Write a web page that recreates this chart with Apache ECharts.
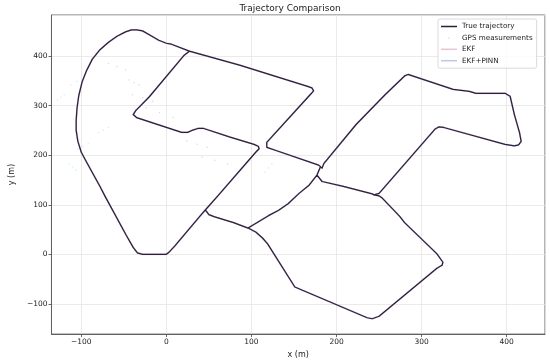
<!DOCTYPE html>
<html>
<head>
<meta charset="utf-8">
<script src="https://cdn.jsdelivr.net/npm/echarts@6/dist/echarts.min.js"></script>
<style>
  html, body { margin: 0; padding: 0; background: #fff; }
  #chart { width: 550px; height: 364px; }
</style>
</head>
<body>
<div id="chart"></div>
<script>
/**
 * Trajectory pieces, in metres [x, y].
 * Estimated filter tracks sit on top of the true path at this scale,
 * so they reuse the same pieces.
 */
// (0,0) west, round the big left arc, over the top to the north junction
let legWestArc = [[0, 0], [-8, 0], [-28, 0], [-34, 3], [-39, 14], [-47, 38], [-72, 117], [-78, 137],
    [-95, 190], [-100, 206], [-104, 228], [-106, 250], [-106, 270], [-105, 295], [-103, 320],
    [-99, 348], [-94, 370], [-87, 394], [-78, 413], [-68, 428], [-58, 440], [-48, 449],
    [-41, 453], [-35, 453], [-28, 451], [-18, 441], [-9, 432], [0, 426], [6, 424], [27, 410]];
// north junction along the long road, down to the centre crossing
let legNorthRoad = [[27, 410], [86, 382], [166, 339], [171, 336], [173, 330], [170, 324], [118, 226],
    [116, 222], [118, 216], [128, 210], [179, 180], [183, 174]];
// (0,0) up the diagonal, round the inner block, back to the north junction
let legInnerBlock = [[0, 0], [3, 4], [10, 17], [41, 80], [46, 90], [60, 117], [105, 206], [109, 213],
    [108, 218], [103, 222], [74, 237], [44, 254], [37, 254], [30, 250], [25, 246], [18, 246],
    [-35, 276], [-39, 282], [-36, 290], [-20, 318], [21, 402], [27, 410]];
let legLink = [[46, 89], [50, 80], [56, 76], [79, 64], [96, 53]];
let legCentreSouth = [[181, 176], [177, 160], [168, 140], [156, 123], [143, 102], [132, 89], [120, 78], [96, 53]];
let legSouthLoop = [[244, 120], [250, 118], [254, 113], [274, 77], [280, 64], [318, 1], [325, -16],
    [324, -22], [318, -28], [250, -125], [242, -130], [236, -128], [151, -66], [119, 21],
    [113, 33], [105, 45], [96, 53]];
let legEastHook = [[183, 174], [185, 183], [223, 262], [257, 322], [280, 360], [284, 363], [291, 359],
    [337, 333], [356, 329], [364, 325], [398, 325], [404, 319], [409, 282], [415, 246],
    [417, 228], [414, 221], [409, 219], [398, 222], [326, 256], [320, 257], [316, 253],
    [250, 123], [244, 120]];
let legCrossStreet = [[177, 160], [183, 147], [208, 137], [242, 122], [244, 120]];

let trajectoryLegs = [legWestArc, legNorthRoad, legInnerBlock, legLink, legCentreSouth,
    legSouthLoop, legEastHook, legCrossStreet];

// faint GPS fixes away from the road
let gpsPink = [[-68, 385], [-58, 379], [-48, 372], [-44, 352], [-38, 347], [-32, 342],
    [-40, 322], [-28, 316], [-16, 309], [-24, 296], [-8, 286], [8, 276],
    [24, 229], [36, 222], [48, 216], [42, 196], [57, 190], [72, 183]];
let gpsCyan = [[-112, 342], [-105, 349], [-98, 355], [-128, 312], [-124, 317], [-120, 322],
    [-80, 246], [-74, 251], [-68, 256], [-104, 213], [-98, 218], [-92, 223],
    [-114, 183], [-110, 176], [-106, 170], [116, 166], [120, 174], [124, 183]];

let xRange = [-135, 445];
let yRange = [-161, 483];

/**---------------------------------------------------------------------------------------------------------------------
 * Chart
 *-------------------------------------------------------------------------------------------------------------------*/
const FONT = 'DejaVu Sans';

// join the legs into one data list, broken with empty points
function joinLegs(legs) {
    let out = [];
    legs.forEach(function (leg, i) {
        if (i > 0) {
            out.push(['-', '-']);
        }
        leg.forEach(function (p) { out.push(p); });
    });
    return out;
}

function minusLabel(v) {
    return v < 0 ? '\u2212' + Math.abs(v) : String(v);
}

function lineSeries(name, color, width, opacity, z) {
    return {
        name: name,
        type: 'line',
        data: joinLegs(trajectoryLegs),
        symbol: 'none',
        connectNulls: false,
        silent: true,
        z: z,
        lineStyle: { color: color, width: width, opacity: opacity, join: 'round', cap: 'round' },
        itemStyle: { color: color }
    };
}

let chart = echarts.init(document.getElementById('chart'), null, { renderer: 'canvas' });

let axisCommon = {
    type: 'value',
    nameLocation: 'middle',
    nameTextStyle: { fontFamily: FONT, fontSize: 8, color: '#222' },
    minInterval: 100,
    maxInterval: 100,
    axisLine: { show: true, onZero: false, lineStyle: { color: '#444', width: 0.8 } },
    axisTick: { show: true, length: 3, lineStyle: { color: '#444', width: 0.8 } },
    axisLabel: { fontFamily: FONT, fontSize: 7.5, color: '#222', formatter: minusLabel,
        showMinLabel: false, showMaxLabel: false },
    splitLine: { show: true, lineStyle: { color: '#e4e4e4', width: 0.8 } }
};

let option = {
    backgroundColor: '#fff',
    animation: false,
    title: {
        text: 'Trajectory Comparison',
        left: 290, top: 4, padding: 0,
        textAlign: 'center',
        textStyle: { fontFamily: FONT, fontSize: 9, fontWeight: 'normal', color: '#222' }
    },
    grid: {
        left: 36, right: 5, top: 15, bottom: 25,
        show: true, borderColor: '#444', borderWidth: 0.8, backgroundColor: 'transparent'
    },
    legend: {
        orient: 'vertical',
        left: 438, top: 19,
        padding: [3, 4, 3, 3],
        itemWidth: 16, itemHeight: 1.5, itemGap: 2.4,
        backgroundColor: 'rgba(255,255,255,0.85)',
        borderColor: '#d0d0d0', borderWidth: 0.8, borderRadius: 2,
        textStyle: { fontFamily: FONT, fontSize: 7.2, color: '#222', lineHeight: 9 },
        data: [
            { name: 'True trajectory', icon: 'rect' },
            { name: 'GPS measurements', icon: 'circle' },
            { name: 'EKF', icon: 'rect' },
            { name: 'EKF+PINN', icon: 'rect' }
        ]
    },
    xAxis: Object.assign({}, axisCommon, {
        min: xRange[0], max: xRange[1],
        name: 'x (m)', nameGap: 15,
        axisLabel: Object.assign({}, axisCommon.axisLabel, { margin: 4 })
    }),
    yAxis: Object.assign({}, axisCommon, {
        min: yRange[0], max: yRange[1],
        name: 'y (m)', nameGap: 27,
        axisLabel: Object.assign({}, axisCommon.axisLabel, { margin: 4 })
    }),
    series: [
        lineSeries('True trajectory', '#2e1f38', 1.25, 1, 5),
        {
            name: 'GPS measurements', type: 'scatter', data: gpsPink, symbolSize: 1.5, z: 2,
            silent: true, itemStyle: { color: '#c9c9d6', opacity: 0.7 }
        },
        {
            name: 'GPS measurements', type: 'scatter', data: gpsCyan, symbolSize: 1.5, z: 2,
            silent: true, itemStyle: { color: '#b0e8f6', opacity: 0.7 }
        },
        lineSeries('EKF', '#e9c3d2', 1.8, 0.7, 3),
        lineSeries('EKF+PINN', '#bcc6ee', 1.5, 0.7, 4)
    ]
};

chart.setOption(option);
</script>
</body>
</html>
